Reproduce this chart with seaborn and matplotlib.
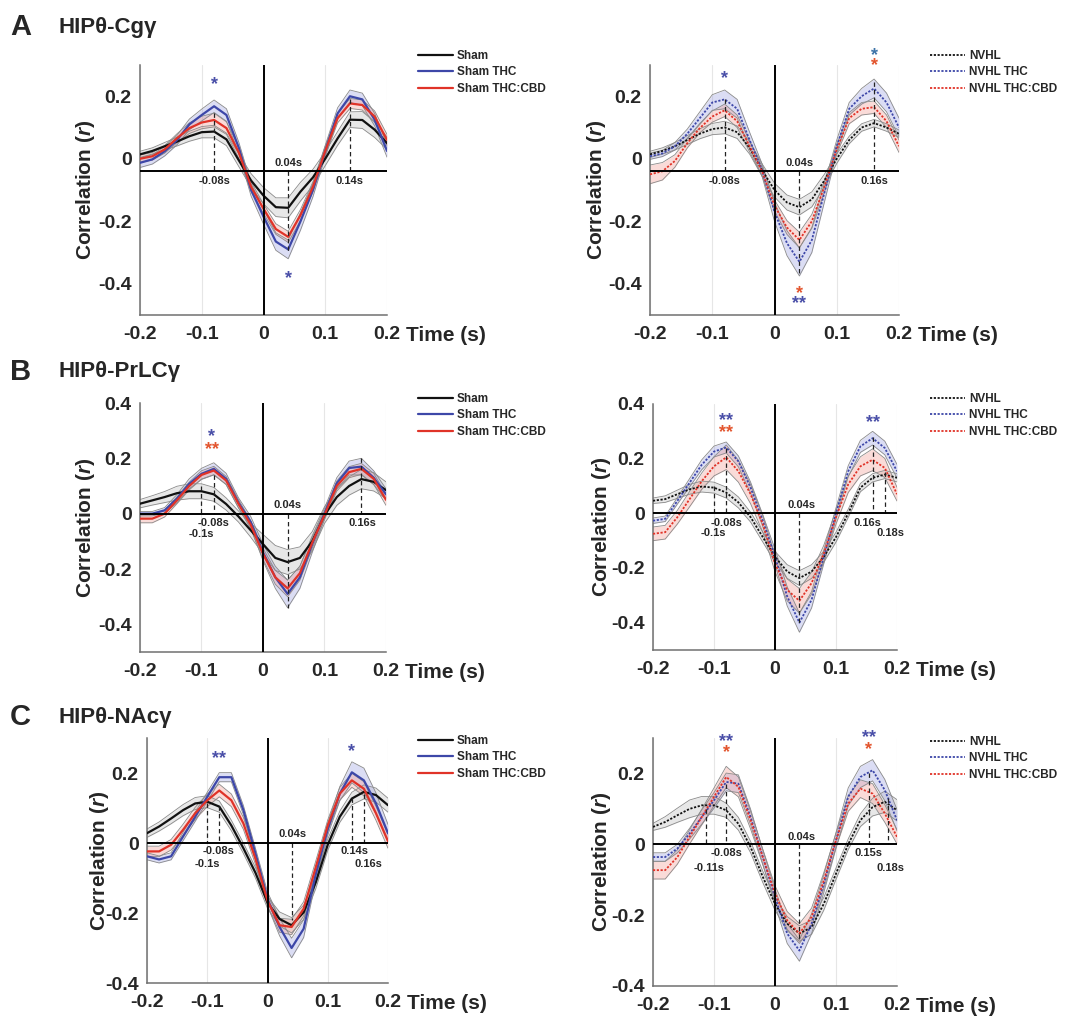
import matplotlib
matplotlib.use("Agg")
import matplotlib.pyplot as plt
from matplotlib.lines import Line2D
import numpy as np
import seaborn as sns

# ---------------- data ----------------
time = [-0.2, -0.18, -0.16, -0.14, -0.12, -0.1, -0.08, -0.06, -0.04, -0.02, 0.0,
        0.02, 0.04, 0.06, 0.08, 0.1, 0.12, 0.14, 0.16, 0.18, 0.2]

sham_labels = ["Sham", "Sham THC", "Sham THC:CBD"]
nvhl_labels = ["NVHL", "NVHL THC", "NVHL THC:CBD"]

# A - HIPtheta-Cg gamma, sham
a_sham = [0.014, 0.025, 0.04, 0.055, 0.072, 0.085, 0.087, 0.062, -0.005, -0.07, -0.118,
          -0.155, -0.157, -0.105, -0.06, 0.0, 0.065, 0.125, 0.124, 0.093, 0.05]
a_sham_thc = [-0.013, -0.002, 0.024, 0.06, 0.11, 0.14, 0.168, 0.14, 0.035, -0.1, -0.185,
              -0.265, -0.29, -0.2, -0.1, 0.025, 0.145, 0.2, 0.19, 0.125, 0.025]
a_sham_cbd = [0.0, 0.008, 0.03, 0.066, 0.098, 0.116, 0.124, 0.098, 0.02, -0.09, -0.16,
              -0.225, -0.25, -0.18, -0.09, 0.025, 0.13, 0.177, 0.172, 0.135, 0.06]
a_sham_sem = [0.01, 0.01, 0.012, 0.014, 0.016, 0.018, 0.02, 0.02, 0.02, 0.022, 0.026,
              0.03, 0.032, 0.03, 0.026, 0.022, 0.022, 0.025, 0.027, 0.025, 0.02]
a_sham_thc_sem = [0.015, 0.015, 0.015, 0.015, 0.017, 0.019, 0.02, 0.02, 0.018, 0.02, 0.024,
                  0.028, 0.03, 0.028, 0.022, 0.018, 0.018, 0.02, 0.02, 0.02, 0.02]
a_sham_cbd_sem = [0.012, 0.012, 0.012, 0.014, 0.017, 0.02, 0.022, 0.02, 0.018, 0.016, 0.015,
                  0.017, 0.018, 0.018, 0.016, 0.015, 0.015, 0.016, 0.016, 0.018, 0.018]

# A - NVHL
a_nvhl = [0.014, 0.025, 0.04, 0.06, 0.08, 0.095, 0.1, 0.085, 0.035, -0.036, -0.1,
          -0.14, -0.155, -0.13, -0.07, 0.0, 0.06, 0.1, 0.114, 0.1, 0.08]
a_nvhl_thc = [0.008, 0.017, 0.04, 0.08, 0.13, 0.18, 0.19, 0.16, 0.06, -0.036, -0.17,
              -0.27, -0.33, -0.26, -0.11, 0.04, 0.16, 0.2, 0.225, 0.18, 0.1]
a_nvhl_cbd = [-0.05, -0.04, -0.007, 0.05, 0.098, 0.135, 0.155, 0.12, 0.04, -0.04, -0.15,
              -0.22, -0.26, -0.2, -0.09, 0.03, 0.13, 0.16, 0.165, 0.12, 0.04]
a_nvhl_sem = [0.01, 0.01, 0.012, 0.014, 0.016, 0.018, 0.02, 0.02, 0.02, 0.02, 0.022,
              0.024, 0.025, 0.024, 0.02, 0.015, 0.012, 0.012, 0.012, 0.012, 0.012]
a_nvhl_thc_sem = [0.01, 0.01, 0.012, 0.015, 0.02, 0.025, 0.03, 0.03, 0.025, 0.02, 0.03,
                  0.04, 0.045, 0.04, 0.03, 0.02, 0.02, 0.025, 0.03, 0.03, 0.03]
a_nvhl_cbd_sem = [0.03, 0.028, 0.02, 0.015, 0.015, 0.018, 0.02, 0.02, 0.018, 0.015, 0.018,
                  0.022, 0.025, 0.022, 0.018, 0.015, 0.018, 0.02, 0.02, 0.02, 0.02]

# B - HIPtheta-PrLC gamma, sham
b_sham = [0.036, 0.048, 0.06, 0.074, 0.081, 0.081, 0.07, 0.035, -0.01, -0.06, -0.11,
          -0.16, -0.175, -0.16, -0.1, -0.005, 0.06, 0.1, 0.125, 0.115, 0.085]
b_sham_thc = [0.0, 0.0, 0.012, 0.054, 0.108, 0.144, 0.162, 0.126, 0.04, -0.03, -0.14,
              -0.23, -0.29, -0.23, -0.11, 0.0, 0.11, 0.165, 0.17, 0.13, 0.07]
b_sham_cbd = [-0.018, -0.018, 0.0, 0.048, 0.1, 0.14, 0.156, 0.12, 0.036, -0.04, -0.145,
              -0.23, -0.27, -0.215, -0.105, -0.005, 0.1, 0.15, 0.162, 0.126, 0.05]
b_sham_sem = [0.015, 0.017, 0.02, 0.025, 0.027, 0.027, 0.025, 0.022, 0.02, 0.025, 0.035,
              0.045, 0.045, 0.04, 0.035, 0.03, 0.03, 0.033, 0.035, 0.033, 0.03]
b_sham_thc_sem = [0.008, 0.008, 0.01, 0.015, 0.018, 0.02, 0.022, 0.02, 0.018, 0.02, 0.03,
                  0.04, 0.05, 0.04, 0.03, 0.02, 0.02, 0.025, 0.03, 0.025, 0.02]
b_sham_cbd_sem = [0.015, 0.015, 0.012, 0.012, 0.014, 0.015, 0.015, 0.015, 0.015, 0.015, 0.02,
                  0.025, 0.03, 0.025, 0.02, 0.015, 0.018, 0.02, 0.02, 0.02, 0.02]

# B - NVHL
b_nvhl = [0.046, 0.052, 0.07, 0.088, 0.098, 0.094, 0.076, 0.04, -0.014, -0.087, -0.159,
          -0.213, -0.237, -0.213, -0.159, -0.087, 0.0, 0.094, 0.13, 0.142, 0.13]
b_nvhl_thc = [-0.027, -0.02, 0.046, 0.112, 0.178, 0.226, 0.241, 0.19, 0.094, -0.027, -0.159,
              -0.304, -0.4, -0.316, -0.159, 0.0, 0.154, 0.245, 0.275, 0.239, 0.154]
b_nvhl_cbd = [-0.075, -0.069, -0.014, 0.052, 0.118, 0.172, 0.205, 0.154, 0.07, -0.039, -0.183,
              -0.28, -0.32, -0.255, -0.147, -0.014, 0.106, 0.172, 0.196, 0.166, 0.07]
b_nvhl_sem = [0.01, 0.012, 0.015, 0.018, 0.02, 0.02, 0.02, 0.02, 0.018, 0.018, 0.02,
              0.025, 0.027, 0.025, 0.02, 0.018, 0.015, 0.015, 0.015, 0.015, 0.015]
b_nvhl_thc_sem = [0.01, 0.01, 0.012, 0.015, 0.018, 0.02, 0.02, 0.02, 0.02, 0.022, 0.028,
                  0.035, 0.035, 0.03, 0.025, 0.02, 0.02, 0.022, 0.025, 0.025, 0.025]
b_nvhl_cbd_sem = [0.025, 0.025, 0.025, 0.028, 0.03, 0.035, 0.045, 0.04, 0.035, 0.03, 0.03,
                  0.04, 0.045, 0.04, 0.03, 0.025, 0.03, 0.035, 0.04, 0.035, 0.025]

# C - HIPtheta-NAc gamma, sham
c_sham = [0.028, 0.047, 0.07, 0.094, 0.113, 0.118, 0.104, 0.05, -0.015, -0.085, -0.17,
          -0.217, -0.235, -0.198, -0.113, -0.005, 0.075, 0.127, 0.146, 0.137, 0.108]
c_sham_thc = [-0.038, -0.047, -0.038, 0.019, 0.075, 0.132, 0.188, 0.188, 0.094, -0.03, -0.16,
              -0.24, -0.3, -0.245, -0.09, 0.04, 0.141, 0.202, 0.179, 0.113, 0.028]
c_sham_cbd = [-0.024, -0.024, -0.005, 0.038, 0.085, 0.122, 0.15, 0.122, 0.056, -0.045, -0.165,
              -0.235, -0.24, -0.188, -0.07, 0.05, 0.141, 0.179, 0.155, 0.085, 0.005]
c_sham_sem = [0.012, 0.013, 0.015, 0.016, 0.017, 0.017, 0.016, 0.015, 0.015, 0.015, 0.017,
              0.02, 0.022, 0.02, 0.018, 0.016, 0.016, 0.018, 0.02, 0.02, 0.02]
c_sham_thc_sem = [0.01, 0.01, 0.01, 0.012, 0.013, 0.013, 0.013, 0.013, 0.013, 0.015, 0.02,
                  0.025, 0.028, 0.025, 0.02, 0.017, 0.02, 0.03, 0.035, 0.03, 0.025]
c_sham_cbd_sem = [0.015, 0.015, 0.015, 0.016, 0.017, 0.018, 0.018, 0.018, 0.017, 0.016, 0.016,
                  0.02, 0.022, 0.02, 0.018, 0.016, 0.018, 0.02, 0.02, 0.02, 0.02]

# C - NVHL
c_nvhl = [0.049, 0.063, 0.082, 0.1, 0.11, 0.11, 0.096, 0.058, -0.008, -0.092, -0.168,
          -0.224, -0.252, -0.234, -0.168, -0.083, 0.0, 0.068, 0.105, 0.12, 0.096]
c_nvhl_thc = [-0.036, -0.036, -0.012, 0.03, 0.077, 0.124, 0.176, 0.171, 0.077, -0.036, -0.149,
              -0.252, -0.3, -0.224, -0.111, 0.011, 0.134, 0.19, 0.209, 0.153, 0.068]
c_nvhl_cbd = [-0.073, -0.073, -0.036, 0.021, 0.077, 0.134, 0.19, 0.162, 0.068, -0.036, -0.139,
              -0.215, -0.252, -0.205, -0.102, 0.011, 0.115, 0.157, 0.143, 0.087, 0.021]
c_nvhl_sem = [0.01, 0.015, 0.02, 0.025, 0.025, 0.025, 0.02, 0.018, 0.016, 0.016, 0.018,
              0.02, 0.022, 0.02, 0.018, 0.016, 0.015, 0.018, 0.025, 0.03, 0.03]
c_nvhl_thc_sem = [0.012, 0.012, 0.012, 0.015, 0.02, 0.022, 0.025, 0.025, 0.022, 0.02, 0.022,
                  0.028, 0.03, 0.028, 0.025, 0.022, 0.025, 0.03, 0.03, 0.03, 0.03]
c_nvhl_cbd_sem = [0.025, 0.025, 0.02, 0.02, 0.022, 0.025, 0.03, 0.028, 0.025, 0.022, 0.022,
                  0.025, 0.028, 0.025, 0.022, 0.02, 0.022, 0.025, 0.028, 0.025, 0.02]

# peak / trough markers: (time, y from, y to)
a_sham_marks = [(-0.08, 0.145, -0.04), (0.04, -0.04, -0.30), (0.14, 0.19, -0.04)]
a_sham_tags = [("-0.08s", -0.08, -0.07), ("0.04s", 0.04, -0.015), ("0.14s", 0.14, -0.07)]
a_nvhl_marks = [(-0.08, 0.19, -0.04), (0.04, -0.04, -0.37), (0.16, 0.245, -0.04)]
a_nvhl_tags = [("-0.08s", -0.08, -0.07), ("0.04s", 0.04, -0.013), ("0.16s", 0.16, -0.07)]
b_sham_marks = [(-0.1, 0.1, 0), (-0.08, 0.14, 0), (0.04, 0, -0.34), (0.16, 0.2, 0)]
b_sham_tags = [("-0.08s", -0.08, -0.032), ("-0.1s", -0.1, -0.072), ("0.04s", 0.04, 0.033),
               ("0.16s", 0.162, -0.032)]
b_nvhl_marks = [(-0.1, 0.1, 0), (-0.08, 0.24, 0), (0.04, 0, -0.4), (0.16, 0.28, 0), (0.18, 0.15, 0)]
b_nvhl_tags = [("-0.08s", -0.079, -0.035), ("-0.1s", -0.101, -0.072), ("0.04s", 0.044, 0.031),
               ("0.16s", 0.152, -0.035), ("0.18s", 0.19, -0.072)]
c_sham_marks = [(-0.1, 0.115, 0), (-0.08, 0.105, 0), (0.04, 0, -0.22), (0.14, 0.13, 0),
                (0.16, 0.14, 0)]
c_sham_tags = [("-0.08s", -0.081, -0.024), ("-0.1s", -0.1, -0.061), ("0.04s", 0.042, 0.025),
               ("0.14s", 0.144, -0.024), ("0.16s", 0.168, -0.061)]
c_nvhl_marks = [(-0.113, 0.1, 0), (-0.08, 0.17, 0), (0.04, 0, -0.27), (0.154, 0.2, 0),
                (0.186, 0.13, 0)]
c_nvhl_tags = [("-0.08s", -0.08, -0.026), ("-0.11s", -0.108, -0.066), ("0.04s", 0.043, 0.021),
               ("0.15s", 0.154, -0.026), ("0.18s", 0.189, -0.066)]

# significance stars: (text, time, y, colour key)
a_sham_stars = [("*", -0.08, 0.256, "b"), ("*", 0.04, -0.365, "b")]
a_nvhl_stars = [("*", -0.08, 0.277, "b"), ("*", 0.16, 0.35, "t"), ("*", 0.16, 0.316, "r"),
                ("*", 0.04, -0.413, "r"), ("**", 0.04, -0.444, "b")]
b_sham_stars = [("*", -0.083, 0.3, "b"), ("**", -0.083, 0.254, "r")]
b_nvhl_stars = [("**", -0.08, 0.36, "b"), ("**", -0.08, 0.317, "r"), ("**", 0.16, 0.353, "b")]
c_sham_stars = [("**", -0.081, 0.259, "b"), ("*", 0.14, 0.278, "b")]
c_nvhl_stars = [("**", -0.08, 0.308, "b"), ("*", -0.08, 0.275, "r"), ("**", 0.154, 0.317, "b"),
                ("*", 0.154, 0.284, "r")]

# ---------------- style ----------------
sns.set_theme(style="white")
plt.rcParams['font.family'] = ['Liberation Sans', 'DejaVu Sans']
plt.rcParams['font.weight'] = 'bold'
plt.rcParams['mathtext.fontset'] = 'custom'
plt.rcParams['mathtext.it'] = 'Liberation Sans:italic:bold'
plt.rcParams['mathtext.rm'] = 'Liberation Sans:bold'

line_cols = ["#111111", "#3d47a8", "#e03328"]
band_cols = ["#bdbdbd", "#9a9ee0", "#f29a90"]
star_cols = {"b": "#4a4fa8", "r": "#e3552e", "t": "#3d74a8"}
dotted = (0, (1.2, 0.9))

fig = plt.figure(figsize=(10.79, 10.17), dpi=100)
W, H = 1079, 1017


def px_axes(x0, x1, y0, y1):
    return fig.add_axes([x0 / W, 1 - y1 / H, (x1 - x0) / W, (y1 - y0) / H])


def draw_panel(ax, means, sems, nvhl, ylim, yticks, zero_y, marks, tags, stars, ylab_x):
    t = np.array(time)
    for i, (mean, sem) in enumerate(zip(means, sems)):
        m = np.array(mean)
        s = np.array(sem)
        ax.fill_between(t, m - s, m + s, color=band_cols[i], alpha=0.35, lw=0, zorder=1)
        ax.plot(t, m - s, color="#8a8a8a", lw=0.6, zorder=2)
        ax.plot(t, m + s, color="#8a8a8a", lw=0.6, zorder=2)
    for i, mean in enumerate(means):
        sns.lineplot(x=t, y=np.array(mean), color=line_cols[i], ax=ax,
                     lw=1.3 if nvhl else 1.6, linestyle=dotted if nvhl else "-", zorder=3)

    ax.axhline(zero_y, color="black", lw=1.4, zorder=5)
    ax.axvline(0, color="black", lw=1.4, zorder=5)
    for tx, y0, y1 in marks:
        ax.plot([tx, tx], [y0, y1], color="#222222", lw=0.9, ls=(0, (3.5, 2.5)), zorder=4)
    for txt, tx, ty in tags:
        ax.text(tx, ty, txt, fontsize=8, fontweight="bold", ha="center", va="center", zorder=6)
    for txt, tx, ty, key in stars:
        ax.annotate(txt, (tx, ty), xytext=(0, -7.6), textcoords="offset points",
                    ha="center", va="baseline", fontsize=13, color=star_cols[key],
                    annotation_clip=False)

    ax.set_xlim(-0.2, 0.2)
    ax.set_ylim(*ylim)
    ax.set_xticks([-0.2, -0.1, 0, 0.1, 0.2])
    ax.set_xticklabels(["-0.2", "-0.1", "0", "0.1", "0.2"])
    ax.set_yticks(yticks)
    ax.set_yticklabels([f"{v:g}" for v in yticks])
    ax.grid(axis="x", color="#e6e6e6", lw=0.8)
    ax.grid(axis="y", visible=False)
    for side in ["top", "right"]:
        ax.spines[side].set_visible(False)
    for side in ["left", "bottom"]:
        ax.spines[side].set_color("#707070")
        ax.spines[side].set_linewidth(1.1)
    ax.tick_params(axis="both", direction="in", length=3, width=0.8, color="#707070",
                   labelsize=14, pad=6)
    ax.tick_params(axis="x", pad=8)
    ax.set_xlabel("")
    ax.set_ylabel(r"Correlation ($\mathit{r}$)", fontsize=15, fontweight="bold")
    ax.yaxis.set_label_coords(ylab_x, 0.5)
    ax.annotate("Time (s)", (1, 0), xycoords="axes fraction", xytext=(14, -8),
                textcoords="offset points", ha="left", va="top", fontsize=15,
                fontweight="bold")


def add_legend(labels, nvhl, x, y):
    handles = [Line2D([], [], color=c, lw=1.3 if nvhl else 1.6,
                      ls=dotted if nvhl else "-") for c in line_cols]
    fig.legend(handles, labels, loc="upper left", bbox_to_anchor=(x / W, 1 - y / H),
               frameon=False, prop={"size": 8.5, "weight": "bold"}, handlelength=3.0,
               handletextpad=0.3, labelspacing=0.38, borderpad=0, borderaxespad=0)


ax = px_axes(140, 387, 65, 315)
draw_panel(ax, [a_sham, a_sham_thc, a_sham_cbd], [a_sham_sem, a_sham_thc_sem, a_sham_cbd_sem],
           False, (-0.5, 0.3), [-0.4, -0.2, 0, 0.2], -0.04, a_sham_marks, a_sham_tags,
           a_sham_stars, -0.174)
ax = px_axes(650, 899, 65, 315)
draw_panel(ax, [a_nvhl, a_nvhl_thc, a_nvhl_cbd], [a_nvhl_sem, a_nvhl_thc_sem, a_nvhl_cbd_sem],
           True, (-0.5, 0.3), [-0.4, -0.2, 0, 0.2], -0.04, a_nvhl_marks, a_nvhl_tags,
           a_nvhl_stars, -0.169)
ax = px_axes(140, 386, 403, 652)
draw_panel(ax, [b_sham, b_sham_thc, b_sham_cbd], [b_sham_sem, b_sham_thc_sem, b_sham_cbd_sem],
           False, (-0.5, 0.4), [-0.4, -0.2, 0, 0.2, 0.4], 0, b_sham_marks, b_sham_tags,
           b_sham_stars, -0.174)
ax = px_axes(653, 897, 404, 650)
draw_panel(ax, [b_nvhl, b_nvhl_thc, b_nvhl_cbd], [b_nvhl_sem, b_nvhl_thc_sem, b_nvhl_cbd_sem],
           True, (-0.5, 0.4), [-0.4, -0.2, 0, 0.2, 0.4], 0, b_nvhl_marks, b_nvhl_tags,
           b_nvhl_stars, -0.165)
ax = px_axes(147, 388, 738, 983)
draw_panel(ax, [c_sham, c_sham_thc, c_sham_cbd], [c_sham_sem, c_sham_thc_sem, c_sham_cbd_sem],
           False, (-0.4, 0.3), [-0.4, -0.2, 0, 0.2], 0, c_sham_marks, c_sham_tags,
           c_sham_stars, -0.15)
ax = px_axes(653, 897, 738, 986)
draw_panel(ax, [c_nvhl, c_nvhl_thc, c_nvhl_cbd], [c_nvhl_sem, c_nvhl_thc_sem, c_nvhl_cbd_sem],
           True, (-0.4, 0.3), [-0.4, -0.2, 0, 0.2], 0, c_nvhl_marks, c_nvhl_tags,
           c_nvhl_stars, -0.165)

add_legend(sham_labels, False, 418, 50)
add_legend(nvhl_labels, True, 930, 50)
add_legend(sham_labels, False, 418, 393)
add_legend(nvhl_labels, True, 930, 393)
add_legend(sham_labels, False, 418, 735)
add_legend(nvhl_labels, True, 930, 736)

for letter, title, yc in [("A", "HIPθ-Cgγ", 27), ("B", "HIPθ-PrLCγ", 372), ("C", "HIPθ-NAcγ", 717)]:
    fig.text(10 / W, 1 - yc / H, letter, fontsize=21, fontweight="bold", va="center")
    fig.text(59 / W, 1 - yc / H, title, fontsize=16, fontweight="bold", va="center")

fig.savefig("out.png", dpi=100)
